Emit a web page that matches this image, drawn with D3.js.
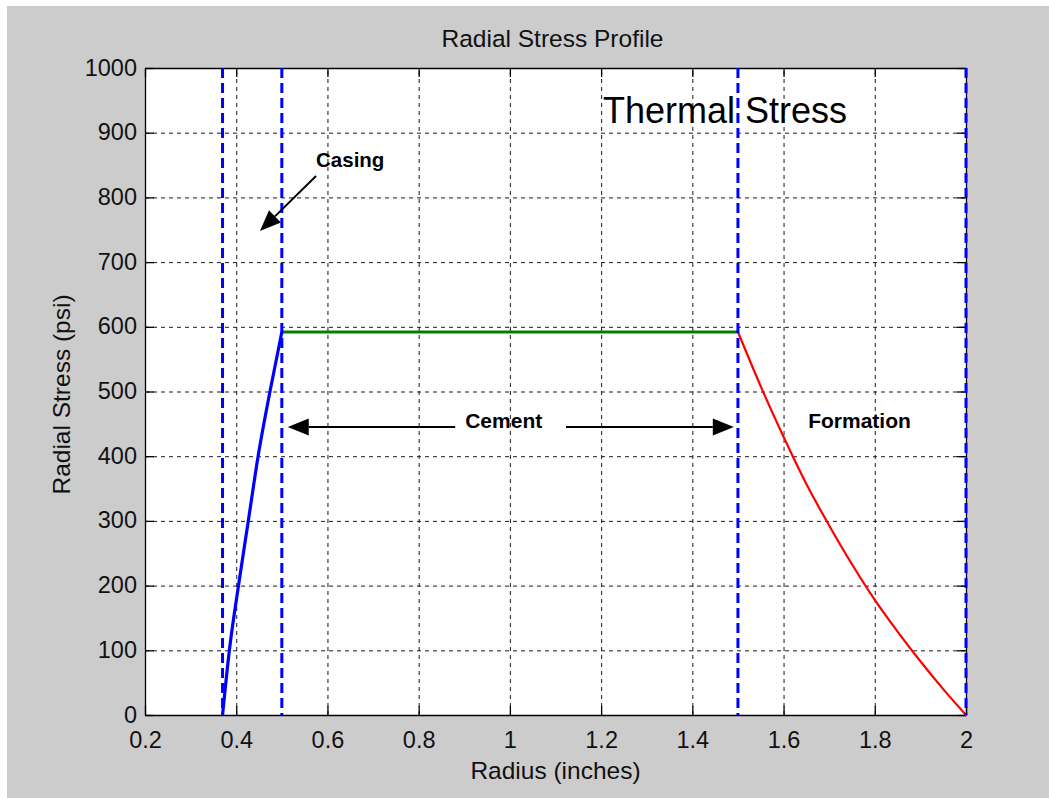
<!DOCTYPE html>
<html>
<head>
<meta charset="utf-8">
<script src="https://cdn.jsdelivr.net/npm/d3@7"></script>
<style>
  html, body { margin: 0; padding: 0; background: #ffffff; }
  svg { display: block; }
  text { font-family: "Liberation Sans", Arial, sans-serif; }
</style>
</head>
<body>
<svg id="chart" width="1049" height="798"></svg>
<script>
// Radial stress through casing, cement sheath and formation (psi vs radius in inches)
const casingRadius = [0.37, 0.385, 0.405, 0.4265, 0.448, 0.474, 0.5];
const casingStress = [0, 100, 200, 300, 400, 500, 592];

const cementRadius = [0.5, 1.5];
const cementStress = [592, 592];

const formationRadius = [1.5, 1.55, 1.6, 1.65, 1.7, 1.75, 1.8, 1.85, 1.9, 1.95, 2.0];
const formationStress = [592, 508, 430, 357, 293, 233, 178, 129, 83, 40, 0];

// Material interfaces (inner casing, casing/cement, cement/formation, outer boundary)
const interfaceRadius = [0.37, 0.5, 1.5, 2.0];

const xTicks = [0.2, 0.4, 0.6, 0.8, 1.0, 1.2, 1.4, 1.6, 1.8, 2.0];
const xTickLabels = ["0.2", "0.4", "0.6", "0.8", "1", "1.2", "1.4", "1.6", "1.8", "2"];
const yTicks = [0, 100, 200, 300, 400, 500, 600, 700, 800, 900, 1000];
const yTickLabels = ["0", "100", "200", "300", "400", "500", "600", "700", "800", "900", "1000"];

const svg = d3.select("#chart");
const W = 1049, H = 798;
const plotL = 145, plotR = 966, plotT = 68, plotB = 715;

// figure background with a thin white strip along the top and left edges
svg.append("rect").attr("x", 7).attr("y", 6).attr("width", W - 7).attr("height", H - 6)
  .attr("fill", "#cccccc");

const x = d3.scaleLinear().domain([0.2, 2.0]).range([plotL, plotR]);
const y = d3.scaleLinear().domain([0, 1000]).range([plotB, plotT]);

svg.append("rect").attr("x", plotL).attr("y", plotT)
  .attr("width", plotR - plotL).attr("height", plotB - plotT).attr("fill", "#ffffff");

// dashed grid
const grid = svg.append("g").attr("class", "grid");
grid.append("g").attr("transform", `translate(0,${plotB})`)
  .call(d3.axisBottom(x).tickValues(xTicks.slice(1, -1)).tickSize(-(plotB - plotT)).tickFormat(""))
  .call(g => g.select(".domain").remove());
grid.append("g").attr("transform", `translate(${plotL},0)`)
  .call(d3.axisLeft(y).tickValues(yTicks.slice(1, -1)).tickSize(-(plotR - plotL)).tickFormat(""))
  .call(g => g.select(".domain").remove());
grid.selectAll(".tick line")
  .attr("stroke", "#1a1a1a").attr("stroke-width", 1).attr("stroke-dasharray", "4,4");

// axes box with inward ticks on all four sides
const tickLen = 9;
const axisStyle = g => {
  g.select(".domain").attr("stroke", "#000").attr("stroke-width", 1.3);
  g.selectAll(".tick line").attr("stroke", "#000").attr("stroke-width", 1.3);
};
svg.append("g").attr("transform", `translate(0,${plotB})`)
  .call(d3.axisBottom(x).tickValues(xTicks).tickSizeInner(-tickLen).tickSizeOuter(0)
    .tickFormat((d, i) => xTickLabels[i]).tickPadding(0))
  .call(axisStyle)
  .call(g => g.selectAll(".tick text").attr("y", 32.5).attr("dy", null)
    .attr("font-size", 23.5).attr("fill", "#111"));
svg.append("g").attr("transform", `translate(0,${plotT})`)
  .call(d3.axisTop(x).tickValues(xTicks).tickSizeInner(-tickLen).tickSizeOuter(0).tickFormat(""))
  .call(axisStyle);
svg.append("g").attr("transform", `translate(${plotL},0)`)
  .call(d3.axisLeft(y).tickValues(yTicks).tickSizeInner(-tickLen).tickSizeOuter(0)
    .tickFormat((d, i) => yTickLabels[i]).tickPadding(0))
  .call(axisStyle)
  .call(g => g.selectAll(".tick text").attr("x", -8).attr("dy", "0.3em")
    .attr("font-size", 23.5).attr("fill", "#111"));
svg.append("g").attr("transform", `translate(${plotR},0)`)
  .call(d3.axisRight(y).tickValues(yTicks).tickSizeInner(-tickLen).tickSizeOuter(0).tickFormat(""))
  .call(axisStyle);

// stress curves
const line = d3.line().x(d => x(d[0])).y(d => y(d[1]));
const smooth = d3.line().x(d => x(d[0])).y(d => y(d[1])).curve(d3.curveMonotoneX);
const zip = (a, b) => a.map((v, i) => [v, b[i]]);

svg.append("path").datum(zip(cementRadius, cementStress)).attr("d", line)
  .attr("fill", "none").attr("stroke", "#008000").attr("stroke-width", 3);
svg.append("path").datum(zip(casingRadius, casingStress)).attr("d", smooth)
  .attr("fill", "none").attr("stroke", "#0000ff").attr("stroke-width", 3.2);
svg.append("path").datum(zip(formationRadius, formationStress)).attr("d", smooth)
  .attr("fill", "none").attr("stroke", "#ff0000").attr("stroke-width", 2.2);

// interface boundaries
svg.append("g").selectAll("line").data(interfaceRadius).join("line")
  .attr("x1", d => x(d)).attr("x2", d => x(d))
  .attr("y1", plotT).attr("y2", plotB)
  .attr("stroke", "#0000ff").attr("stroke-width", 3).attr("stroke-dasharray", "10,5");

// annotations, positioned in data units
function arrow(from, to) {
  const x0 = x(from[0]), y0 = y(from[1]), x1 = x(to[0]), y1 = y(to[1]);
  const ang = Math.atan2(y1 - y0, x1 - x0);
  const len = 21, half = 8.5;
  const bx = x1 - len * Math.cos(ang), by = y1 - len * Math.sin(ang);
  svg.append("line").attr("x1", x0).attr("y1", y0).attr("x2", bx).attr("y2", by)
    .attr("stroke", "#000").attr("stroke-width", 2);
  const px = -Math.sin(ang) * half, py = Math.cos(ang) * half;
  svg.append("path")
    .attr("d", `M${x1},${y1}L${bx + px},${by + py}L${bx - px},${by - py}Z`)
    .attr("fill", "#000");
}

function label(txt, at, size, weight) {
  svg.append("text").attr("x", x(at[0])).attr("y", y(at[1]))
    .attr("font-size", size).attr("font-weight", weight).attr("fill", "#000").text(txt);
}

label("Thermal Stress", [1.204, 915], 36, "normal");
label("Casing", [0.575, 847], 20.5, "bold");
arrow([0.575, 833], [0.452, 748]);
label("Cement", [0.902, 443], 21, "bold");
arrow([0.88, 445], [0.513, 445]);
arrow([1.123, 445], [1.491, 445]);
label("Formation", [1.654, 443], 21, "bold");

// titles
svg.append("text").attr("x", (plotL + plotR) / 2 - 3).attr("y", 47)
  .attr("text-anchor", "middle").attr("font-size", 24.5).attr("fill", "#111")
  .text("Radial Stress Profile");
svg.append("text").attr("x", (plotL + plotR) / 2).attr("y", 779)
  .attr("text-anchor", "middle").attr("font-size", 24.5).attr("fill", "#111")
  .text("Radius (inches)");
svg.append("text").attr("transform", `translate(70,${(plotT + plotB) / 2 + 3}) rotate(-90)`)
  .attr("text-anchor", "middle").attr("font-size", 24.5).attr("fill", "#111")
  .text("Radial Stress (psi)");
</script>
</body>
</html>
